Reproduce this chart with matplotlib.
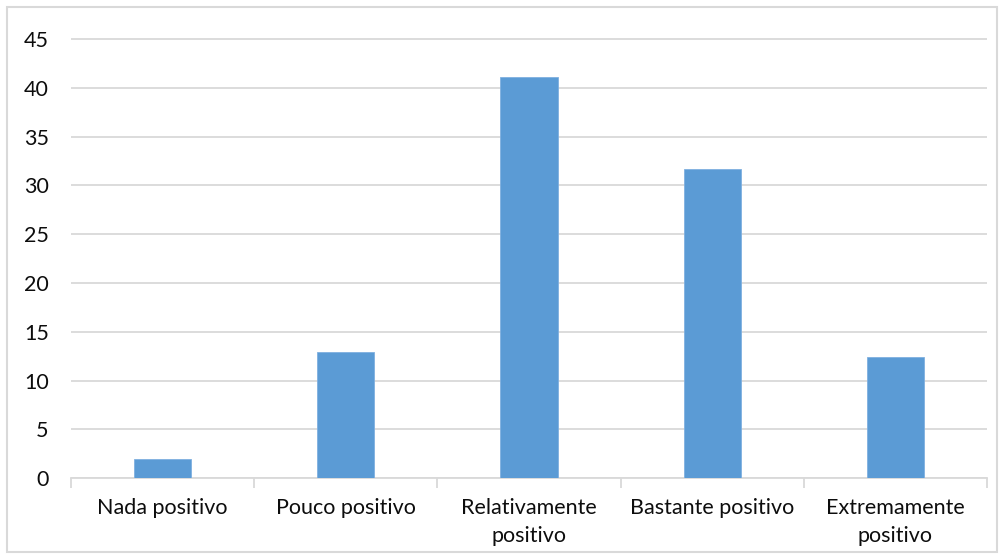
import numpy as np
import matplotlib.pyplot as plt
from matplotlib.patches import Rectangle

categories = ["Nada positivo", "Pouco positivo", "Relativamente\npositivo",
              "Bastante positivo", "Extremamente\npositivo"]
values = [2.0, 12.9, 41.1, 31.7, 12.4]
yticks = [0, 5, 10, 15, 20, 25, 30, 35, 40, 45]

plt.rcParams.update({
    "font.family": ["Lato", "DejaVu Sans"],
    "font.size": 15.5,
})

fig = plt.figure(figsize=(10.04, 5.59), dpi=100)
ax = fig.add_axes([71 / 1004, 1 - 478.3 / 559, 916 / 1004, (478.3 - 39) / 559 * 50 / 45])

x = np.arange(len(categories))
ax.bar(x, values, width=0.313, color="#5b9bd5", edgecolor="#7fb0e0", linewidth=0.6, zorder=3)

ax.set_xlim(-0.5, len(categories) - 0.5)
ax.set_ylim(0, 50)
ax.set_yticks(yticks)
ax.set_yticklabels([str(v) for v in yticks])
ax.yaxis.grid(True, color="#d9d9d9", linewidth=1.3, zorder=0)
ax.tick_params(axis="y", length=0, pad=16, labelsize=15.5, labelcolor="#0d0d0d")

# category labels sit between the boundary tick marks
ax.set_xticks(x)
ax.set_xticklabels(categories, linespacing=1.5)
ax.tick_params(axis="x", which="major", length=0, pad=14, labelsize=15.5, labelcolor="#0d0d0d")
ax.set_xticks(np.arange(len(categories) + 1) - 0.5, minor=True)
ax.tick_params(axis="x", which="minor", length=7, width=1.3, color="#d9d9d9", direction="out")

for side in ["top", "right", "left"]:
    ax.spines[side].set_visible(False)
ax.spines["bottom"].set_color("#d9d9d9")
ax.spines["bottom"].set_linewidth(1.3)

fig.patches.append(Rectangle((7 / 1004, 7 / 559), 990 / 1004, 545 / 559,
                             transform=fig.transFigure, fill=False,
                             edgecolor="#d9d9d9", linewidth=1.5))

plt.savefig("out.png", dpi=100)
